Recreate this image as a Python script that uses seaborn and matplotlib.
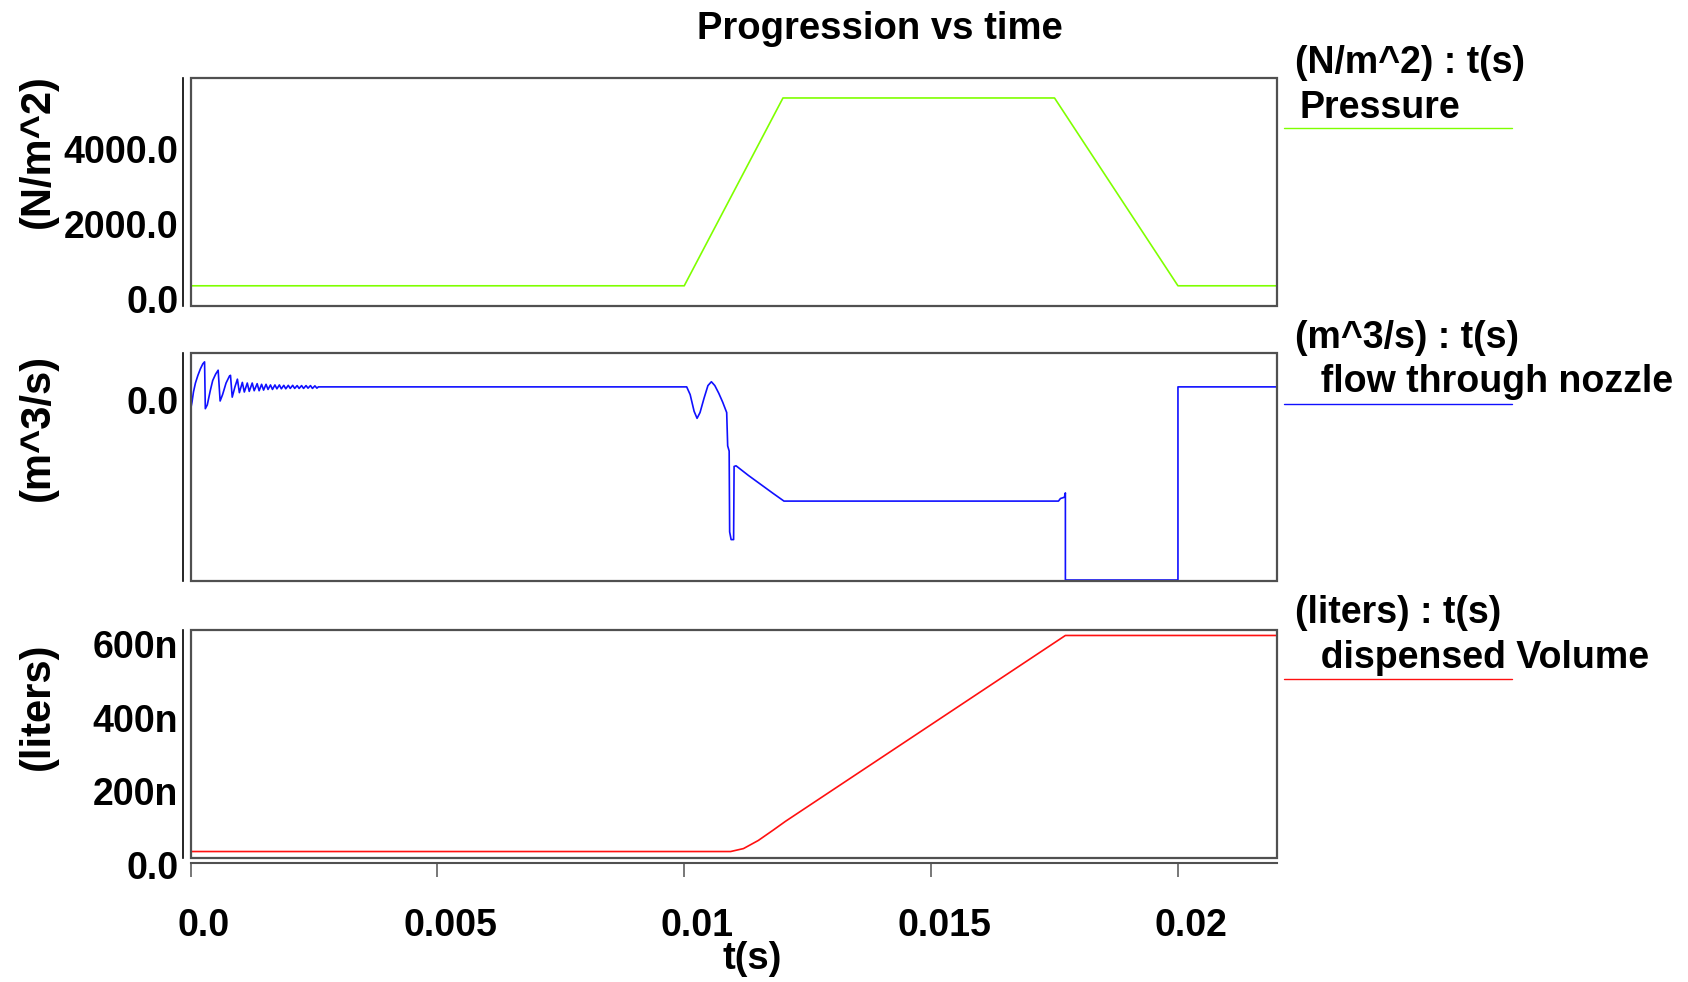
import numpy as np
import pandas as pd
import matplotlib
matplotlib.use("Agg")
import matplotlib.pyplot as plt
import seaborn as sns
from matplotlib.lines import Line2D
from matplotlib.patches import Rectangle
import matplotlib.transforms as mtransforms

# ---------------- data ----------------
title = "Progression vs time"
x_label = "t(s)"

pressure_t_ms = [0.0, 10.0, 12.0, 17.5, 20.0, 22.0]
pressure_nm2 = [0, 0, 5000, 5000, 0, 0]

flow_t_ms = [
    0.000, 0.010, 0.030, 0.060, 0.100, 0.150, 0.200, 0.250, 0.285,
    0.300, 0.340, 0.400, 0.450, 0.510, 0.560,
    0.600, 0.650, 0.720, 0.790, 0.810,
    0.845, 0.900, 0.950, 0.990, 1.050, 1.090, 1.150, 1.190, 1.250, 1.290,
    1.350, 1.390, 1.440, 1.480, 1.530, 1.570, 1.620, 1.660, 1.710, 1.750,
    1.800, 1.840, 1.890, 1.930, 1.980, 2.020, 2.070, 2.110, 2.160, 2.200,
    2.250, 2.290, 2.340, 2.380, 2.430, 2.470, 2.520, 2.560, 2.590,
    10.05, 10.12, 10.20, 10.26, 10.32, 10.40, 10.48, 10.55, 10.62, 10.70,
    10.78, 10.86, 10.88, 10.91, 10.92, 10.95, 11.00, 11.01, 11.05, 11.30,
    11.55, 11.80, 12.02, 17.58, 17.62, 17.70, 17.72, 17.72, 20.00, 20.00,
    22.00,
]
flow_e8 = [
    -3.2, -1.6, -1.2, -0.4, 0.3, 0.9, 1.4, 1.8, 1.95,
    -1.7, -1.4, -0.3, 0.5, 1.0, 1.3,
    -1.1, -0.6, 0.3, 0.85, 0.9,
    -0.8, 0.0, 0.6, -0.45, 0.35, -0.4, 0.3, -0.35, 0.3, -0.3,
    0.25, -0.3, 0.2, -0.25, 0.2, -0.2, 0.15, -0.2, 0.15, -0.15,
    0.15, -0.15, 0.12, -0.15, 0.12, -0.12, 0.12, -0.12, 0.1, -0.12,
    0.1, -0.12, 0.1, -0.1, 0.1, -0.12, 0.08, -0.1, 0.0,
    0.0, -0.6, -1.9, -2.45, -2.0, -0.9, 0.1, 0.4, 0.1, -0.5,
    -1.2, -2.0, -4.6, -5.0, -11.3, -11.9, -11.9, -6.2, -6.15, -6.9,
    -7.6, -8.3, -8.9, -8.9, -8.7, -8.6, -8.26, -15.05, -15.05, 0.0,
    0.0,
]

volume_t_ms = [0.0, 10.94, 11.2, 11.5, 11.8, 12.05, 17.72, 22.0]
volume_nl = [0, 0, 8, 30, 58, 82, 587, 587]

x_ticks = [0.0, 0.005, 0.01, 0.015, 0.02]
x_tick_labels = ["0.0", "0.005", "0.01", "0.015", "0.02"]
p_ticks = [0, 2000, 4000]
p_tick_labels = ["0.0", "2000.0", "4000.0"]
f_ticks = [0.0]
f_tick_labels = ["0.0"]
v_ticks = [0, 200e-9, 400e-9, 600e-9]
v_tick_labels = ["0.0", "200n", "400n", "600n"]

y_labels = ["(N/m^2)", "(m^3/s)", "(liters)"]
legend_units = ["(N/m^2) : t(s)", "(m^3/s) : t(s)", "(liters) : t(s)"]
legend_names = ["Pressure", "  flow through nozzle", "  dispensed Volume"]
colors = ["#7FFF00", "#1010FF", "#FF1010"]

# ---------------- style ----------------
sns.set_style("white")
plt.rcParams["font.family"] = ["Liberation Sans", "DejaVu Sans"]
plt.rcParams["font.weight"] = "bold"
plt.rcParams["text.color"] = "black"
plt.rcParams["axes.labelcolor"] = "black"
plt.rcParams["xtick.color"] = "black"
plt.rcParams["ytick.color"] = "black"

W, H = 1688, 982
fig = plt.figure(figsize=(W / 100, H / 100), dpi=100)


def fx(x):
    return x / W


def fy(y):
    return 1 - y / H


def make_ax(top, bottom, left=190.5, right=1276.7):
    return fig.add_axes([fx(left), fy(bottom), (right - left) / W, (bottom - top) / H])


ax1 = make_ax(77.5, 305.7)
ax2 = make_ax(353.0, 581.3)
ax3 = make_ax(629.8, 858.0)
axes = [ax1, ax2, ax3]

df_p = pd.DataFrame({"t": np.array(pressure_t_ms) * 1e-3, "v": pressure_nm2})
df_f = pd.DataFrame({"t": np.array(flow_t_ms) * 1e-3, "v": np.array(flow_e8) * 1e-8})
df_v = pd.DataFrame({"t": np.array(volume_t_ms) * 1e-3, "v": np.array(volume_nl) * 1e-9})

for ax, df, c in zip(axes, [df_p, df_f, df_v], colors):
    sns.lineplot(data=df, x="t", y="v", ax=ax, color=c, linewidth=1.2,
                 sort=False, estimator=None)
    ax.set_xlabel("")
    ax.set_ylabel("")
    ax.set_xlim(0, 0.022)

ax1.set_ylim(-530, 5545)
ax2.set_ylim(-15.15e-8, 2.64e-8)
ax3.set_ylim(-17.6e-9, 602.4e-9)

ax1.set_yticks(p_ticks, labels=p_tick_labels)
ax2.set_yticks(f_ticks, labels=f_tick_labels)
ax3.set_yticks(v_ticks, labels=v_tick_labels)
ax1.set_xticks([])
ax2.set_xticks([])
ax3.set_xticks(x_ticks, labels=x_tick_labels)

for ax in axes:
    for s in ["top", "right", "bottom"]:
        ax.spines[s].set_visible(False)
    ax.spines["left"].set_position(("outward", 5.4))
    ax.spines["left"].set_color("black")
    ax.spines["left"].set_linewidth(1.2)
    ax.add_patch(Rectangle((0, 0), 1, 1, transform=ax.transAxes, fill=False,
                           ec="#505050", lw=1.6, clip_on=False, zorder=5))
    ax.tick_params(axis="y", direction="out", length=3, width=1, color="black",
                   labelcolor="black", labelsize=27, pad=0.5)
    ax.tick_params(axis="x", bottom=False, left=False)

ax3.spines["bottom"].set_visible(True)
ax3.spines["bottom"].set_position(("outward", 3.8))
ax3.spines["bottom"].set_color("#505050")
ax3.spines["bottom"].set_linewidth(1.5)
ax3.tick_params(axis="x", bottom=True, direction="out", length=10, width=1.2,
                color="#606060", labelcolor="black", labelsize=27, pad=22.5)

dy = mtransforms.ScaledTranslation(0, 0.005, fig.dpi_scale_trans)
dx = mtransforms.ScaledTranslation(0.13, 0, fig.dpi_scale_trans)
for ax in axes:
    for lbl in ax.get_yticklabels():
        lbl.set_fontweight("bold")
        lbl.set_verticalalignment("top")
        lbl.set_transform(lbl.get_transform() + dy)
for lbl in ax3.get_xticklabels():
    lbl.set_fontweight("bold")
    lbl.set_transform(lbl.get_transform() + dx)

# title and axis label
fig.text(fx(880), fy(29), title, ha="center", va="center", fontsize=27.5,
         fontweight="bold", color="black")
fig.text(fx(752), fy(959), x_label, ha="center", va="center", fontsize=27.5,
         fontweight="bold", color="black")

# y labels
for lab, yc in zip(y_labels, [150.7, 427.0, 706.0]):
    fig.text(fx(37.7), fy(yc), lab, rotation=90, ha="center", va="center",
             fontsize=30, fontweight="bold", color="black")

# legends on the right
leg_rows = [(63.3, 108.0, 128.1), (337.8, 381.5, 403.7), (613.4, 658.1, 679.3)]
for (y1, y2, yl), u, n, c in zip(leg_rows, legend_units, legend_names, colors):
    fig.text(fx(1295), fy(y1), u, ha="left", va="center", fontsize=27,
             fontweight="bold", color="black")
    fig.text(fx(1300), fy(y2), n, ha="left", va="center", fontsize=27,
             fontweight="bold", color="black")
    fig.add_artist(Line2D([fx(1284), fx(1512)], [fy(yl), fy(yl)],
                          transform=fig.transFigure, color=c, lw=1.0))

fig.savefig("out.png", dpi=100)
